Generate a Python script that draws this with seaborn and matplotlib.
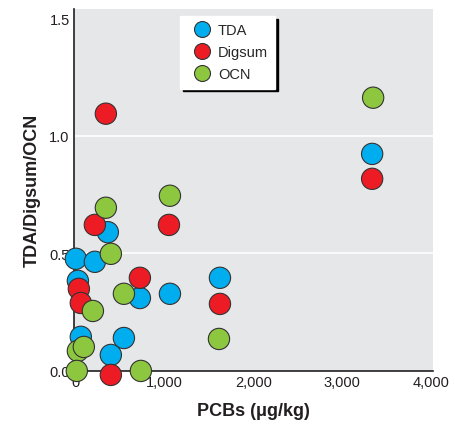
import numpy as np
import pandas as pd
import matplotlib
matplotlib.use('Agg')
import matplotlib.pyplot as plt
import seaborn as sns

# values
tda_x = [0, 214, 360, 23, 721, 1059, 1622, 56, 541, 394, 3335]
tda_y = [0.477, 0.464, 0.59, 0.383, 0.31, 0.328, 0.396, 0.145, 0.14, 0.068, 0.923]

digsum_x = [338, 214, 1048, 34, 56, 721, 1622, 394, 3335]
digsum_y = [1.094, 0.621, 0.621, 0.349, 0.289, 0.396, 0.285, -0.017, 0.817]

ocn_x = [338, 1059, 394, 192, 541, 1611, 23, 90, 11, 732, 3346]
ocn_y = [0.694, 0.745, 0.498, 0.255, 0.328, 0.136, 0.085, 0.102, 0.0, 0.0, 1.162]

series = ['TDA', 'Digsum', 'OCN']
colors = ['#00aeef', '#ed1c24', '#8dc63f']
x_ticks = [0, 1000, 2000, 3000, 4000]
x_ticklabels = ['0', '1,000', '2,000', '3,000', '4,000']
y_ticks = [0.0, 0.5, 1.0, 1.5]
grid_lines = [0.5, 1.0]

df = pd.concat([
    pd.DataFrame({'PCBs': tda_x, 'value': tda_y, 'kind': 'TDA'}),
    pd.DataFrame({'PCBs': digsum_x, 'value': digsum_y, 'kind': 'Digsum'}),
    pd.DataFrame({'PCBs': ocn_x, 'value': ocn_y, 'kind': 'OCN'}),
])

sns.set_style('white')
plt.rcParams['font.family'] = ['Liberation Sans', 'DejaVu Sans']

fig = plt.figure(figsize=(4.56, 4.27), dpi=100)
ax = fig.add_axes([0.162, 0.129, 0.788, 0.848])
ax.set_facecolor('#e6e7e8')

for g in grid_lines:
    ax.axhline(g, color='white', lw=1.2, zorder=0)

sns.scatterplot(data=df, x='PCBs', y='value', hue='kind', hue_order=series,
                palette=colors, s=235, edgecolor='#333333', linewidth=0.8,
                ax=ax, clip_on=False, zorder=3)

ax.set_xlim(-22, 4022)
ax.set_ylim(0, 1.54)
ax.set_xticks(x_ticks)
ax.set_xticklabels(x_ticklabels)
ax.set_yticks(y_ticks)
ax.set_yticklabels(['0.0', '0.5', '1.0', '1.5'])
ax.tick_params(axis='both', length=0, labelsize=10.5, colors='#231f20', pad=3)

for s in ['top', 'right']:
    ax.spines[s].set_visible(False)
for s in ['left', 'bottom']:
    ax.spines[s].set_color('#231f20')
    ax.spines[s].set_linewidth(1.2)

ax.set_xlabel('PCBs (\u03bcg/kg)', fontsize=13, fontweight='bold', color='#231f20', labelpad=9)
ax.set_ylabel('TDA/Digsum/OCN', fontsize=13, fontweight='bold', color='#231f20', labelpad=6)

leg = ax.legend(loc='upper left', bbox_to_anchor=(0.295, 0.98), frameon=True,
                fancybox=False, shadow={'color': 'black', 'alpha': 1},
                fontsize=10.5, handletextpad=0.1, borderpad=0.5, labelspacing=0.55,
                borderaxespad=0, markerscale=0.75)
leg.get_frame().set_edgecolor('white')
leg.get_frame().set_facecolor('white')
leg.get_frame().set_alpha(1)

fig.savefig('out.png', dpi=100)
